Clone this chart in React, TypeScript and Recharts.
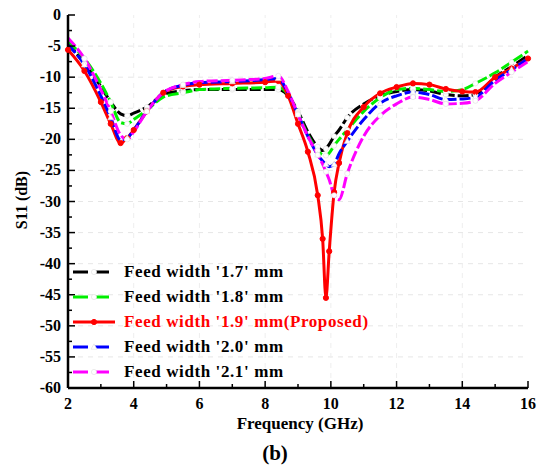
import React from "react";
import { LineChart, Line, XAxis, YAxis, ReferenceLine, Legend } from "recharts";

// frequency points (GHz)
const freq = [2, 2.5, 3, 3.3, 3.6, 3.8, 4, 4.4, 4.9, 5.5, 6, 7, 8, 8.4, 8.7, 9, 9.3, 9.6, 9.75, 9.85, 9.95, 10.1, 10.25, 10.5, 11, 11.5, 12, 12.5, 13, 13.5, 14, 14.4, 15, 15.5, 16];

// S11 (dB) for each feed width
const fw17 = [-4.6, -7.8, -11.5, -14, -15.9, -16.2, -15.8, -14.8, -12.8, -12.2, -12, -12, -12, -12, -13, -15.5, -18.8, -21.2, -21.8, -21.5, -20.8, -19.5, -18.5, -16.5, -14.3, -13, -12.3, -12, -12.2, -12.8, -13, -12.8, -10, -8.3, -6.5];
const fw18 = [-4.3, -7, -11, -14, -17.3, -17.5, -16.8, -15.3, -13.2, -12.5, -12, -11.8, -11.7, -11.6, -12.8, -15.8, -19.3, -21.8, -22.5, -22.6, -22.2, -21, -20, -18.5, -15.5, -13.3, -12, -11.8, -12, -12.3, -12, -11, -9.3, -7.6, -5.8];
const fw19 = [-5.6, -9, -14, -17.5, -20.6, -19.8, -18.5, -15.5, -12.5, -11.5, -11.2, -11, -10.8, -10.6, -13, -17.5, -22, -29, -36, -45.5, -38, -28.5, -23.8, -19, -14.8, -12.6, -11.6, -11, -11.2, -11.9, -12.3, -12.4, -10, -8.6, -7];
const fw20 = [-4.8, -8, -13, -16.5, -20.1, -19.8, -18.5, -15.5, -12.5, -11.3, -10.9, -10.7, -10.4, -10.2, -12.6, -16, -19.5, -22.5, -23.5, -24, -24.4, -24, -22.3, -20.3, -16.8, -14.2, -13, -12.4, -12.8, -13.6, -13.5, -13.2, -10.5, -8.8, -7];
const fw21 = [-3.7, -7, -12, -15.5, -19.3, -20, -18.8, -15.5, -12.5, -11.2, -10.7, -10.5, -10.2, -9.8, -12.3, -16, -19.5, -22.5, -24, -25.2, -26.5, -29, -29.7, -25.5, -19.5, -16.2, -14.3, -13.2, -13.6, -14.3, -14.2, -13.8, -11, -9.2, -7.5];

const xTicks = [2, 3, 4, 5, 6, 7, 8, 9, 10, 11, 12, 13, 14, 15, 16];
const xMajor = [2, 4, 6, 8, 10, 12, 14, 16];
const yTicks = [0, -2.5, -5, -7.5, -10, -12.5, -15, -17.5, -20, -22.5, -25, -27.5, -30, -32.5, -35, -37.5, -40, -42.5, -45, -47.5, -50, -52.5, -55, -57.5, -60];
const yMajor = [0, -5, -10, -15, -20, -25, -30, -35, -40, -45, -50, -55, -60];
const yGrid = [-5, -10, -15, -20, -25, -30, -35, -40, -45, -50, -55];
const xGrid = [4, 6, 8, 10, 12, 14];

const series = [
  { key: "fw17", name: "Feed width '1.7' mm", color: "#000000", dash: "11 3", values: fw17, marker: "circle" },
  { key: "fw18", name: "Feed width '1.8' mm", color: "#00ee00", dash: "11 3", values: fw18, marker: "circle" },
  { key: "fw19", name: "Feed width '1.9' mm(Proposed)", color: "#ff0000", dash: undefined, values: fw19, marker: "dot" },
  { key: "fw20", name: "Feed width '2.0' mm", color: "#0000ff", dash: "11 3", values: fw20, marker: "triangle" },
  { key: "fw21", name: "Feed width '2.1' mm", color: "#ff00ff", dash: "11 3", values: fw21, marker: "circle" },
];

const data = freq.map((f, i) => {
  const row: any = { f };
  series.forEach((s) => (row[s.key] = s.values[i]));
  return row;
});

const FONT = "'Liberation Serif', 'Times New Roman', serif";

function BottomTick({ x, y, payload }: any) {
  const major = xMajor.includes(payload.value);
  return (
    <g>
      <line x1={x} x2={x} y1={y} y2={y - (major ? 7 : 4)} stroke="#000" strokeWidth={1.5} />
      {major && (
        <text x={x} y={y + 21} textAnchor="middle" fontFamily={FONT} fontWeight="bold" fontSize={16} fill="#000">
          {payload.value}
        </text>
      )}
    </g>
  );
}

function TopTick({ x, y, payload }: any) {
  const major = xMajor.includes(payload.value);
  return <line x1={x} x2={x} y1={y} y2={y + (major ? 7 : 4)} stroke="#000" strokeWidth={1.5} />;
}

function LeftTick({ x, y, payload }: any) {
  const major = yMajor.includes(payload.value);
  return (
    <g>
      <line x1={x} x2={x + (major ? 7 : 4)} y1={y} y2={y} stroke="#000" strokeWidth={1.5} />
      {major && (
        <text x={x - 7} y={y + 5} textAnchor="end" fontFamily={FONT} fontWeight="bold" fontSize={16} fill="#000">
          {payload.value}
        </text>
      )}
    </g>
  );
}

function RightTick({ x, y, payload }: any) {
  const major = yMajor.includes(payload.value);
  return <line x1={x} x2={x - (major ? 7 : 4)} y1={y} y2={y} stroke="#000" strokeWidth={1.5} />;
}

function Marker({ cx, cy, color, kind }: any) {
  if (cx == null || cy == null) return null;
  if (kind === "dot") return <circle cx={cx} cy={cy} r={2.6} fill={color} stroke={color} />;
  if (kind === "triangle")
    return <path d={`M${cx},${cy - 3.2}L${cx + 3},${cy + 2.2}L${cx - 3},${cy + 2.2}Z`} fill="#fff" stroke="#ddd" strokeWidth={0.6} />;
  return <circle cx={cx} cy={cy} r={2.6} fill="#fff" stroke="#ddd" strokeWidth={0.6} />;
}

function LegendBox() {
  return (
    <div style={{ fontFamily: FONT, fontWeight: "bold", fontSize: 17, letterSpacing: 0.6 }}>
      {series.map((s) => (
        <div key={s.key} style={{ display: "flex", alignItems: "center", height: 25, whiteSpace: "nowrap" }}>
          <svg width={44} height={12} style={{ marginRight: 8 }}>
            <line x1={1} x2={43} y1={6} y2={6} stroke={s.color} strokeWidth={3} strokeDasharray={s.dash ? "15 6" : undefined} />
            <Marker cx={22} cy={6} color={s.color} kind={s.marker} />
          </svg>
          <span style={{ color: s.key === "fw19" ? "#ff0000" : "#000" }}>{s.name}</span>
        </div>
      ))}
    </div>
  );
}

export default function App() {
  return (
    <div style={{ position: "absolute", left: 0, top: 0, width: 543, height: 470, background: "#fff" }}>
      <LineChart width={543} height={470} data={data} margin={{ top: 15, right: 15, bottom: 52, left: 18 }}>
        <XAxis
          xAxisId="b"
          dataKey="f"
          type="number"
          domain={[2, 16]}
          ticks={xTicks}
          interval={0}
          tickSize={0}
          tickMargin={0}
          tickLine={false}
          tick={<BottomTick />}
          height={30}
          axisLine={{ stroke: "#000", strokeWidth: 2.5 }}
        />
        <XAxis
          xAxisId="t"
          dataKey="f"
          type="number"
          orientation="top"
          domain={[2, 16]}
          ticks={xTicks}
          interval={0}
          tickSize={0}
          tickMargin={0}
          tickLine={false}
          tick={<TopTick />}
          height={0}
          axisLine={{ stroke: "#000", strokeWidth: 2.5 }}
        />
        <YAxis
          yAxisId="l"
          type="number"
          domain={[-60, 0]}
          ticks={yTicks}
          interval={0}
          tickSize={0}
          tickMargin={0}
          tickLine={false}
          tick={<LeftTick />}
          width={50}
          axisLine={{ stroke: "#000", strokeWidth: 2.5 }}
        />
        <YAxis
          yAxisId="r"
          orientation="right"
          type="number"
          domain={[-60, 0]}
          ticks={yTicks}
          interval={0}
          tickSize={0}
          tickMargin={0}
          tickLine={false}
          tick={<RightTick />}
          width={0}
          axisLine={{ stroke: "#000", strokeWidth: 2.5 }}
        />
        {yGrid.map((v) => (
          <ReferenceLine key={`gy${v}`} xAxisId="b" yAxisId="l" y={v} stroke="#e6e6e6" strokeDasharray="5 5" />
        ))}
        {xGrid.map((v) => (
          <ReferenceLine key={`gx${v}`} xAxisId="b" yAxisId="l" x={v} stroke="#eeeeee" strokeDasharray="5 5" />
        ))}
        {series.map((s) => (
          <Line
            key={s.key}
            xAxisId="b"
            yAxisId="l"
            type="monotone"
            dataKey={s.key}
            name={s.name}
            stroke={s.color}
            strokeWidth={3}
            strokeDasharray={s.dash}
            dot={(p: any) =>
              s.marker === "dot" || p.index % 2 === 1 ? (
                <Marker key={`${s.key}-${p.index}`} cx={p.cx} cy={p.cy} color={s.color} kind={s.marker} />
              ) : (
                <g key={`${s.key}-${p.index}`} />
              )
            }
            isAnimationActive={false}
          />
        ))}
        <Legend
          layout="horizontal"
          verticalAlign="middle"
          align="center"
          content={() => <LegendBox />}
          wrapperStyle={{ left: 72, top: 259, width: 320 }}
        />
      </LineChart>
      <div
        style={{
          position: "absolute",
          left: 22,
          top: 200,
          transform: "translate(-50%, -50%) rotate(-90deg)",
          fontFamily: FONT,
          fontWeight: "bold",
          fontSize: 16,
          whiteSpace: "nowrap",
        }}
      >
        S11 (dB)
      </div>
      <div style={{ position: "absolute", left: 0, width: 600, top: 414, textAlign: "center", fontFamily: FONT, fontWeight: "bold", fontSize: 17 }}>
        Frequency (GHz)
      </div>
      <div style={{ position: "absolute", left: 0, width: 550, top: 441, textAlign: "center", fontFamily: FONT, fontWeight: "bold", fontSize: 21 }}>
        (b)
      </div>
    </div>
  );
}
